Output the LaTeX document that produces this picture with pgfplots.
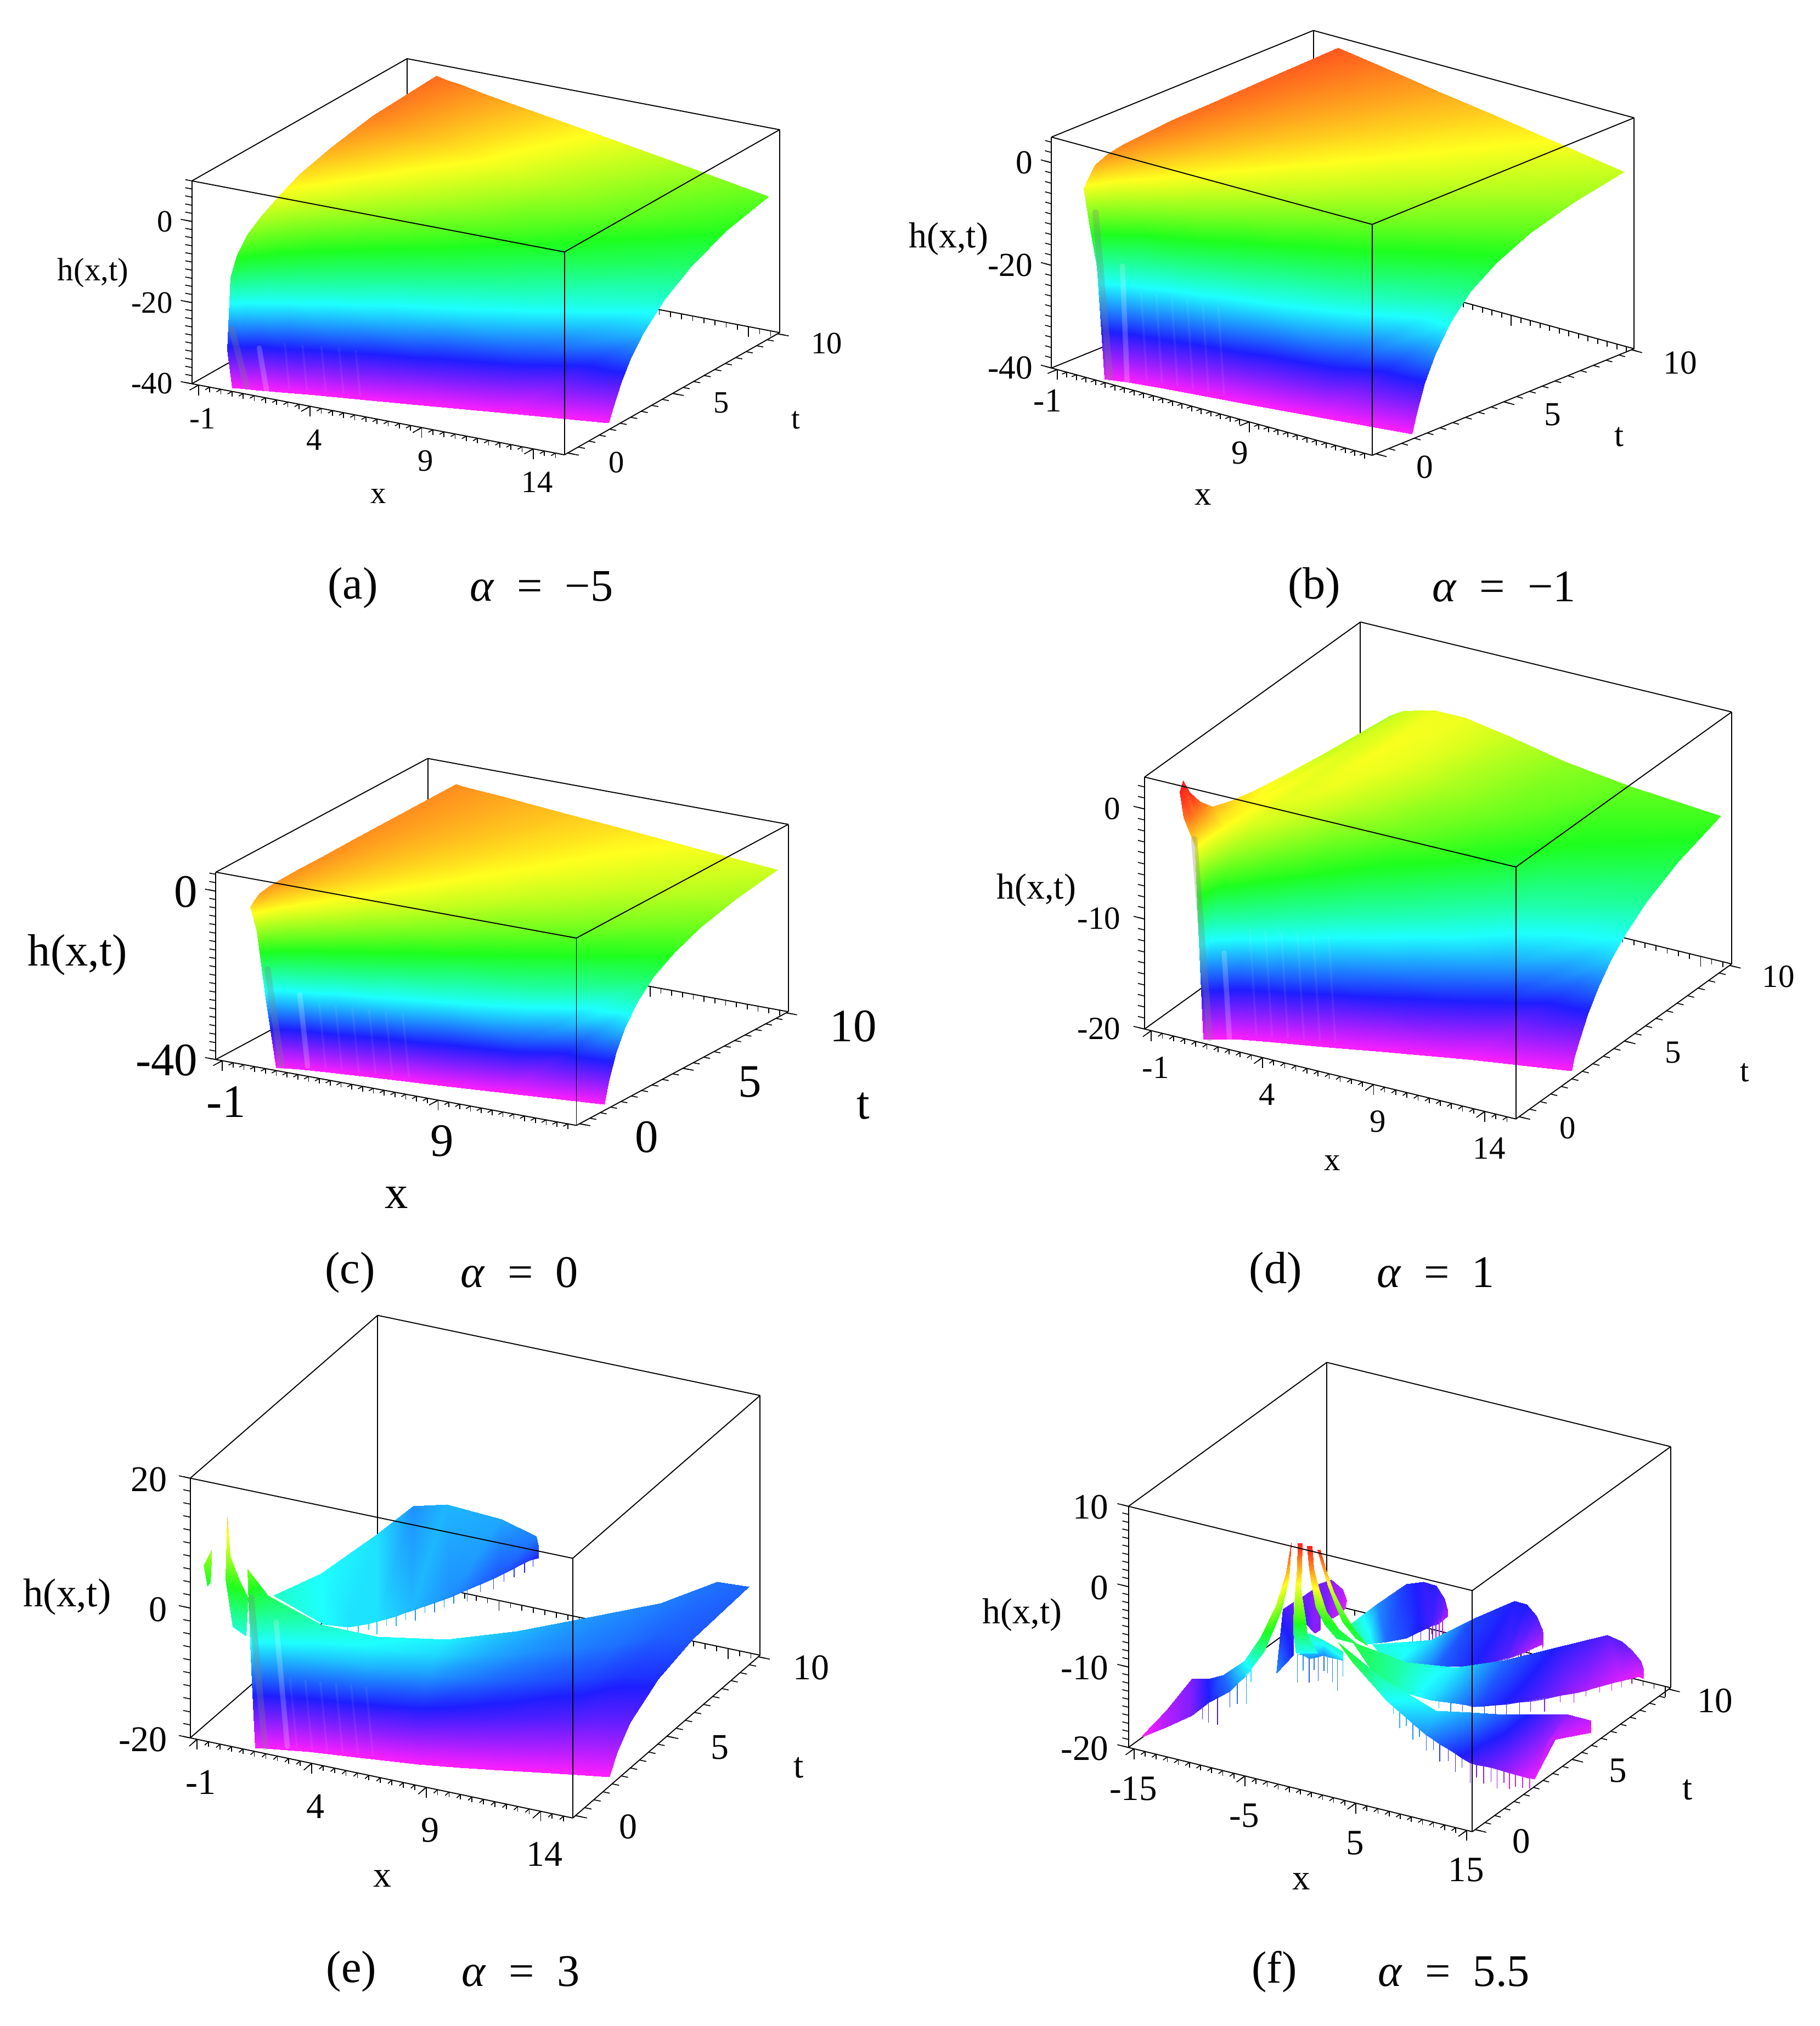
\documentclass[border=0pt]{standalone}
\usepackage{fontspec}
\setmainfont{Liberation Serif}
\usepackage{pgfplots}
\pgfplotsset{compat=1.18}
\def\u{0.5pt}
\pgfplotsset{
  colormap={zhue}{rgb255=(255,30,255) rgb255=(30,30,255) rgb255=(30,255,255) rgb255=(30,255,30) rgb255=(255,255,30) rgb255=(255,30,30)},
  maple/.style={
    clip=false, anchor=south west,
    xmin=-1.3, xmax=15.4, ymin=-0.15, ymax=10.1,
    axis line style={black,line width=0.4pt},
    tick style={black,line width=0.35pt},
    major tick length=4pt, minor tick length=2pt,
    tick align=outside, tick pos=left,
    ytick style={draw=none}, ztick style={draw=none},
    colormap name=zhue,
    xticklabel style={anchor=center},
    yticklabel style={anchor=center},
    zticklabel style={anchor=east},
    ytick={0,5,10},
    minor xtick={-1,-0.5,...,15},
    /pgf/number format/assume math mode=true,
  },
  sheet/.style={surf, shader=interp, z buffer=none},
  streak/.style={no markers, draw=white, opacity=0.2, line width=2pt, line cap=round},
  gstreak/.style={no markers, draw=gray, opacity=0.3, line width=2.4pt, line cap=round},
  ripple/.style={no markers, draw=white, opacity=0.07, line width=0.8pt, unbounded coords=jump},
  edge/.style={no markers, draw=black, line width=0.4pt},
  tk/.style={no markers, draw=black, line width=0.35pt},
  jag/.style={mesh, no markers, line width=0.3pt},
}
\tikzset{captxt/.style={font=\fontsize{17.5}{20}\selectfont}}
\newcommand\al[1]{\textit{α}\hspace{0.5em}=\hspace{0.5em}#1}
% ticks along the t edge and the h edge, in the direction of the x axis
\newcommand\tticks[4]{%
  \pgfplotsinvokeforeach{0,0.5,...,10}{\addplot3[tk] coordinates {(#1,##1,#4)(#2,##1,#4)};}
  \pgfplotsinvokeforeach{0,5,10}{\addplot3[tk] coordinates {(#1,##1,#4)(#3,##1,#4)};}}
\newcommand\zticks[6]{%
  \pgfplotsinvokeforeach{#5}{\addplot3[tk] coordinates {(#1,#4,##1)(#2,#4,##1)};}
  \pgfplotsinvokeforeach{#6}{\addplot3[tk] coordinates {(#1,#4,##1)(#3,#4,##1)};}}
\begin{document}
\begin{tikzpicture}
\useasboundingbox (0,0) rectangle (1408*\u,-1568*\u);
% (a)
\begin{axis}[maple, at={(148.5*\u,-352*\u)},
  x={(288.3/16.7*\u,-55/16.7*\u)}, y={(166.5/10.25*\u,94.6/10.25*\u)}, z={(0,157/50*\u)},
  zmin=-40, zmax=10, point meta min=-40, point meta max=11,
  xtick={-1,4,9,14}, ztick={-40,-20,0},
  ticklabel style={font=\fontsize{12}{14}\selectfont},
  xticklabel style={xshift=5pt,yshift=-11pt}, yticklabel style={xshift=15pt,yshift=-3pt}, zticklabel style={xshift=-0.5pt,yshift=2pt}]
\addplot3[sheet, mesh/cols=10, mesh/rows=10] coordinates {
(.1,10,7.5)(.1,7,6.6)(.1,5,4.65)(.1,3.5,2.4)(.1,2.5,.05)(.1,1.6,-2.7)(.1,1,-5.1)(.1,.5,-8.6)(.1,.2,-13.2)(.1,.05,-30.8)
(.3,10,7.3)(.3,7,6.35)(.3,5,4.35)(.3,3.5,2)(.3,2.5,-.5)(.3,1.6,-3.4)(.3,1,-6.2)(.3,.5,-10.9)(.3,.2,-18.7)(.3,.07,-40)
(.6,10,7)(.6,7,6)(.6,5,3.9)(.6,3.5,1.4)(.6,2.5,-1.2)(.6,1.6,-4.6)(.6,1,-8)(.6,.5,-14.2)(.6,.2,-27)(.6,.125,-40)
(1.2,10,6.5)(1.2,7,5.3)(1.2,5,3)(1.2,3.5,.3)(1.2,2.5,-2.8)(1.2,1.6,-6.8)(1.2,1,-11.5)(1.2,.5,-21)(1.2,.22,-40)(1.2,.22,-40)
(2.2,10,5.5)(2.2,7,4.1)(2.2,5,1.5)(2.2,3.5,-1.7)(2.2,2.5,-5.3)(2.2,1.6,-10.6)(2.2,1,-17.3)(2.2,.5,-32.1)(2.2,.385,-40)(2.2,.385,-40)
(3.5,10,4.3)(3.5,7,2.6)(3.5,5,-.4)(3.5,3.5,-4.2)(3.5,2.5,-8.7)(3.5,1.6,-15.5)(3.5,1,-24.8)(3.5,.6,-40)(3.5,.6,-40)(3.5,.6,-40)
(5.5,10,2.4)(5.5,7,.3)(5.5,5,-3.3)(5.5,3.5,-8.1)(5.5,2.5,-13.8)(5.5,1.6,-23.1)(5.5,1,-36.4)(5.5,.9,-40)(5.5,.9,-40)(5.5,.9,-40)
(8,10,.1)(8,7,-2.7)(8,5,-7)(8,3.5,-12.9)(8,2.5,-20.2)(8,1.6,-32.5)(8,1.29,-40)(8,1.29,-40)(8,1.29,-40)(8,1.29,-40)
(11,10,-2.7)(11,7,-6.2)(11,5,-11.5)(11,3.5,-18.8)(11,2.5,-27.9)(11,1.76,-40)(11,1.76,-40)(11,1.76,-40)(11,1.76,-40)(11,1.76,-40)
(15,10,-6.5)(15,8,-9.1)(15,6.3,-13)(15,5,-17.4)(15,4,-22.9)(15,3.4,-27.4)(15,3,-31.4)(15,2.7,-35.1)(15,2.5,-38.1)(15,2.38,-40)
};
\addplot3[gstreak] coordinates {(.3,.05,-25.4)(.97,.05,-38.9)};
\addplot3[streak] coordinates {(1.53,.05,-28.8)(1.87,.05,-39.3)};
\addplot3[ripple] coordinates {(2.5,.45,-39)(2.3,.45,-28)(nan,nan,nan)(3.2,.55,-39)(3,.55,-28)(nan,nan,nan)(3.9,.7,-39)(3.7,.7,-28)(nan,nan,nan)(4.6,.8,-39)(4.4,.8,-28)(nan,nan,nan)(5.3,.85,-39)(5.1,.85,-28)};
\addplot3[edge] coordinates {(-1.3,-.15,10)(15.4,-.15,10)(15.4,10.1,10)};
\addplot3[edge] coordinates {(15.4,-.15,-40)(15.4,-.15,10)};
\tticks{15.4}{15.7}{15.9}{-40}
\zticks{-1.3}{-1.6}{-1.8}{-.15}{-40,-38,...,10}{-40,-20,0}
\end{axis}
% (b)
\begin{axis}[maple, at={(813.6*\u,-352.4*\u)},
  x={(248.2/16.7*\u,-67.6/16.7*\u)}, y={(202.7/10.25*\u,82.5/10.25*\u)}, z={(0,178.7/45*\u)},
  zmin=-40, zmax=5, point meta min=-40, point meta max=5.7,
  xtick={-1,9}, ztick={-40,-20,0},
  ticklabel style={font=\fontsize{13}{15}\selectfont},
  xticklabel style={xshift=0pt,yshift=-10.5pt}, yticklabel style={xshift=15pt,yshift=-4pt}, zticklabel style={yshift=1.5pt}]
\addplot3[sheet, mesh/cols=10, mesh/rows=10] coordinates {
(.1,10,3.3)(.1,7,2.8)(.1,5,2.5)(.1,3.5,2.3)(.1,2.5,1.9)(.1,1.6,1.5)(.1,1,.9)(.1,.5,-.2)(.1,.2,-2.5)(.1,.05,-4)
(.4,10,3.2)(.4,7,2.6)(.4,5,2.2)(.4,3.5,1.8)(.4,2.5,1.3)(.4,1.6,.6)(.4,1,-.5)(.4,.5,-3)(.4,.2,-7)(.4,.05,-10.5)
(.8,10,2.9)(.8,7,2.3)(.8,5,1.8)(.8,3.5,1.25)(.8,2.5,.5)(.8,1.6,-.6)(.8,1,-2.3)(.8,.5,-6.6)(.8,.2,-12)(.8,.05,-18.5)
(1.2,10,2.7)(1.2,7,1.95)(1.2,5,1.3)(1.2,3.5,.7)(1.2,2.5,-.2)(1.2,1.6,-1.75)(1.2,1,-4.2)(1.2,.5,-10.3)(1.2,.2,-22)(1.2,.05,-40)
(2.2,10,2.1)(2.2,7,1.1)(2.2,5,.26)(2.2,3.5,-.8)(2.2,2.5,-2.2)(2.2,1.6,-4.8)(2.2,1,-8.9)(2.2,.5,-19.6)(2.2,.25,-40)(2.2,.25,-40)
(3.5,10,1.3)(3.5,7,.1)(3.5,5,-1.1)(3.5,3.5,-2.7)(3.5,2.5,-4.8)(3.5,1.6,-8.7)(3.5,1,-15)(3.5,.5,-31.6)(3.5,.4,-40)(3.5,.4,-40)
(5.5,10,.06)(5.5,7,-1.5)(5.5,5,-3.2)(5.5,3.5,-5.6)(5.5,2.5,-8.7)(5.5,1.6,-14.6)(5.5,1,-24.4)(5.5,.62,-40)(5.5,.62,-40)(5.5,.62,-40)
(8,10,-1.45)(8,7,-3.5)(8,5,-5.9)(8,3.5,-9.2)(8,2.5,-13.6)(8,1.6,-22)(8,1,-36)(8,.9,-40)(8,.9,-40)(8,.9,-40)
(11,10,-3.3)(11,7,-5.9)(11,5,-9)(11,3.5,-13.5)(11,2.5,-19.5)(11,1.6,-31)(11,1.25,-40)(11,1.25,-40)(11,1.25,-40)(11,1.25,-40)
(15,10,-5.7)(15,8,-7.7)(15,6.3,-10.3)(15,5,-13.3)(15,4,-16.9)(15,3.2,-21.3)(15,2.6,-26.4)(15,2.2,-31.2)(15,1.9,-36.2)(15,1.7,-40)
};
\addplot3[gstreak] coordinates {(.73,.05,-8)(1.49,.05,-39.5)};
\addplot3[streak] coordinates {(2.13,.05,-17)(2.38,.05,-39.6)};
\addplot3[ripple] coordinates {(3,.35,-39)(2.7,.35,-22)(nan,nan,nan)(3.7,.42,-39)(3.4,.42,-22)(nan,nan,nan)(4.4,.5,-39)(4.1,.5,-22)(nan,nan,nan)(5.1,.58,-39)(4.8,.58,-22)(nan,nan,nan)(5.8,.66,-39)(5.5,.66,-22)(nan,nan,nan)(6.5,.74,-39)(6.2,.74,-22)};
\addplot3[edge] coordinates {(-1.3,-.15,5)(15.4,-.15,5)(15.4,10.1,5)};
\addplot3[edge] coordinates {(15.4,-.15,-40)(15.4,-.15,5)};
\tticks{15.4}{15.73}{15.95}{-40}
\zticks{-1.3}{-1.63}{-1.85}{-.15}{-40,-38,...,4}{-40,-20,0}
\end{axis}
% (c)
\begin{axis}[maple, at={(167*\u,-871*\u)},
  x={(279/16.7*\u,-51/16.7*\u)}, y={(164/10.25*\u,88/10.25*\u)}, z={(0,145/44.5*\u)},
  zmin=-40, zmax=4.5, point meta min=-40, point meta max=4.4,
  xtick={-1,9}, ztick={-40,0},
  ticklabel style={font=\fontsize{18}{20}\selectfont},
  xticklabel style={xshift=5pt,yshift=-14pt}, yticklabel style={xshift=22pt,yshift=-4.5pt}, zticklabel style={yshift=1.5pt}]
\addplot3[sheet, mesh/cols=10, mesh/rows=10] coordinates {
(.1,10,-.04)(.1,7,-.06)(.1,5,-.09)(.1,3.5,-.12)(.1,2.5,-.17)(.1,1.6,-.27)(.1,1,-.43)(.1,.5,-.86)(.1,.2,-2.1)(.1,.05,-3)
(.4,10,-.17)(.4,7,-.24)(.4,5,-.34)(.4,3.5,-.49)(.4,2.5,-.68)(.4,1.6,-1.06)(.4,1,-1.7)(.4,.5,-3.4)(.4,.2,-6)(.4,.05,-8.5)
(.8,10,-.34)(.8,7,-.49)(.8,5,-.68)(.8,3.5,-.97)(.8,2.5,-1.36)(.8,1.6,-2.1)(.8,1,-3.4)(.8,.5,-6.8)(.8,.2,-13)(.8,.05,-23)
(1.3,10,-.56)(1.3,7,-.79)(1.3,5,-1.11)(1.3,3.5,-1.59)(1.3,2.5,-2.22)(1.3,1.6,-3.47)(1.3,1,-5.55)(1.3,.5,-11.1)(1.3,.2,-27)(1.3,.05,-40)
(2.2,10,-.94)(2.2,7,-1.34)(2.2,5,-1.88)(2.2,3.5,-2.69)(2.2,2.5,-3.76)(2.2,1.6,-5.88)(2.2,1,-9.4)(2.2,.5,-18.8)(2.2,.235,-40)(2.2,.235,-40)
(3.5,10,-1.5)(3.5,7,-2.14)(3.5,5,-3)(3.5,3.5,-4.29)(3.5,2.5,-6)(3.5,1.6,-9.38)(3.5,1,-15)(3.5,.5,-30)(3.5,.375,-40)(3.5,.375,-40)
(5.5,10,-2.35)(5.5,7,-3.36)(5.5,5,-4.7)(5.5,3.5,-6.71)(5.5,2.5,-9.4)(5.5,1.6,-14.7)(5.5,1,-23.5)(5.5,.59,-40)(5.5,.59,-40)(5.5,.59,-40)
(8,10,-3.42)(8,7,-4.89)(8,5,-6.84)(8,3.5,-9.77)(8,2.5,-13.7)(8,1.6,-21.4)(8,1,-34.2)(8,.855,-40)(8,.855,-40)(8,.855,-40)
(11,10,-4.7)(11,7,-6.71)(11,5,-9.4)(11,3.5,-13.4)(11,2.5,-18.8)(11,1.6,-29.4)(11,1.175,-40)(11,1.175,-40)(11,1.175,-40)(11,1.175,-40)
(15,10,-6.4)(15,8,-8)(15,6.3,-10.2)(15,5,-12.8)(15,4,-16)(15,3.2,-20)(15,2.6,-24.6)(15,2.2,-29.1)(15,1.85,-34.6)(15,1.6,-40)
};
\addplot3[gstreak] coordinates {(.9,.05,-17)(1.56,.05,-39.4)};
\addplot3[streak] coordinates {(2.4,.05,-21.7)(2.76,.05,-38.3)};
\addplot3[ripple] coordinates {(3.3,.36,-39)(3,.36,-24)(nan,nan,nan)(4,.42,-39)(3.7,.42,-24)(nan,nan,nan)(4.7,.5,-39)(4.4,.5,-24)(nan,nan,nan)(5.4,.58,-39)(5.1,.58,-24)(nan,nan,nan)(6.1,.66,-39)(5.8,.66,-24)(nan,nan,nan)(6.8,.74,-39)(6.5,.74,-24)};
\addplot3[edge] coordinates {(-1.3,-.15,4.5)(15.4,-.15,4.5)(15.4,10.1,4.5)};
\addplot3[edge] coordinates {(15.4,-.15,-40)(15.4,-.15,4.5)};
\tticks{15.4}{15.7}{15.9}{-40}
\zticks{-1.3}{-1.6}{-1.8}{-.15}{-40,-38,...,4}{-40,0}
\end{axis}
% (d)
\begin{axis}[maple, at={(885.7*\u,-866*\u)},
  x={(287.3/16.7*\u,-69.6/16.7*\u)}, y={(167/10.25*\u,120/10.25*\u)}, z={(0,195/22.9*\u)},
  zmin=-20, zmax=2.9, point meta min=-20, point meta max=1.25,
  xtick={-1,4,9,14}, ztick={-20,-10,0},
  ticklabel style={font=\fontsize{12.5}{14}\selectfont},
  xticklabel style={xshift=5pt,yshift=-12pt}, yticklabel style={xshift=15pt,yshift=-3.5pt}, zticklabel style={xshift=-2.5pt,yshift=2.5pt}]
\addplot3[sheet, mesh/cols=10, mesh/rows=11] coordinates {
(.1,10,-4.8)(.1,7,-4)(.1,5,-3.3)(.1,3.5,-2.7)(.1,2.5,-2.2)(.1,1.6,-1.5)(.1,1,-.2)(.1,.5,1.3)(.1,.2,2.8)(.1,.05,2)
(.4,10,-4.4)(.4,7,-3.9)(.4,5,-3.4)(.4,3.5,-3)(.4,2.5,-2.7)(.4,1.6,-2.4)(.4,1,-1.5)(.4,.5,-.8)(.4,.2,0)(.25,.05,-.3)
(.75,10,-4)(.75,7,-3.6)(.75,5,-3.2)(.75,3.5,-3)(.75,2.5,-3)(.75,1.6,-3.2)(.75,1,-3.6)(.75,.5,-4)(.75,.2,-3.5)(.75,.05,-2.1)
(1,10,-3.9)(1,7,-3.6)(1,5,-3.3)(1,3.5,-3.3)(1,2.5,-3.4)(1,1.6,-4)(1,1,-5)(1,.5,-7.5)(1,.2,-9)(1,.05,-13.5)
(1.15,10,-3.8)(1.15,7,-3.6)(1.15,5,-3.5)(1.15,3.5,-3.5)(1.15,2.5,-3.7)(1.15,1.6,-4.6)(1.15,1,-6.2)(1.15,.5,-10.4)(1.15,.2,-15)(1.15,.05,-20)
(2.2,10,-3.3)(2.2,7,-3.1)(2.2,5,-3.3)(2.2,3.5,-4.1)(2.2,2.5,-5.2)(2.2,1.6,-7)(2.2,1,-10)(2.2,.5,-18)(2.2,.44,-20)(2.2,.44,-20)
(3.5,10,-3.3)(3.5,7,-3.4)(3.5,5,-4.2)(3.5,3.5,-5.7)(3.5,2.5,-7.1)(3.5,1.6,-10)(3.5,1,-14.8)(3.5,.71,-20)(3.5,.71,-20)(3.5,.71,-20)
(5.5,10,-4)(5.5,7,-4.6)(5.5,5,-5.7)(5.5,3.5,-7.7)(5.5,2.5,-10)(5.5,1.6,-14.5)(5.5,1.11,-20)(5.5,1.11,-20)(5.5,1.11,-20)(5.5,1.11,-20)
(8,10,-5.1)(8,7,-5.8)(8,5,-7.3)(8,3.5,-10.1)(8,2.5,-13.7)(8,2,-16.6)(8,1.62,-20)(8,1.62,-20)(8,1.62,-20)(8,1.62,-20)
(11,10,-5.9)(11,7,-7.4)(11,5,-10)(11,3.5,-13.5)(11,2.8,-16.4)(11,2.23,-20)(11,2.23,-20)(11,2.23,-20)(11,2.23,-20)(11,2.23,-20)
(15,10,-6.6)(15,8,-8)(15,6.5,-9.5)(15,5.5,-11.1)(15,4.8,-12.5)(15,4.2,-14.2)(15,3.7,-15.9)(15,3.3,-17.7)(15,3.05,-19)(15,2.9,-20)
};
\addplot3[gstreak] coordinates {(.74,.05,-2)(1.44,.05,-19.8)};
\addplot3[streak] coordinates {(2.09,.05,-11.7)(2.34,.05,-19.8)};
\addplot3[ripple] coordinates {(3,.62,-19.5)(2.7,.62,-10)(nan,nan,nan)(3.6,.73,-19.5)(3.3,.73,-10)(nan,nan,nan)(4.2,.85,-19.5)(3.9,.85,-10)(nan,nan,nan)(4.8,.98,-19.5)(4.5,.98,-10)(nan,nan,nan)(5.4,1.1,-19.5)(5.1,1.1,-10)(nan,nan,nan)(6,1.2,-19.5)(5.7,1.2,-10)};
\addplot3[edge] coordinates {(-1.3,-.15,2.9)(15.4,-.15,2.9)(15.4,10.1,2.9)};
\addplot3[edge] coordinates {(15.4,-.15,-20)(15.4,-.15,2.9)};
\tticks{15.4}{15.7}{15.9}{-20}
\zticks{-1.3}{-1.6}{-1.8}{-.15}{-20,-19,...,2}{-20,-10,0}
\end{axis}
% (e)
\begin{axis}[maple, at={(147.2*\u,-1407*\u)},
  x={(296/16.7*\u,-62/16.7*\u)}, y={(145/10.25*\u,126/10.25*\u)}, z={(0,201/40*\u)},
  zmin=-20, zmax=20, point meta min=-20, point meta max=20,
  xtick={-1,4,9,14}, ztick={-20,0,20},
  ticklabel style={font=\fontsize{14}{16}\selectfont},
  xticklabel style={xshift=4.5pt,yshift=-14pt}, yticklabel style={xshift=16.5pt,yshift=-3.5pt}, zticklabel style={xshift=-2.5pt,yshift=2pt}]
% back sheet
\addplot3[sheet, mesh/cols=2, mesh/rows=8] coordinates {
(.58,2.05,-2)(3,1.75,-4)
(.85,4.3,-4)(3.7,2.2,-5)
(.96,7.2,-5)(4.5,2.77,-5)
(.34,10,-7.9)(4.9,4.2,-6.5)
(1.8,10,-6.6)(5.3,5.76,-8)
(4.2,10,-7.1)(5.6,8,-10)
(5.7,10,-8.6)(5.8,9.5,-11)
(5.8,10,-10)(5.8,10,-11.9)
};
\addplot3[jag] coordinates {
(3.7,2.2,-5)(3.7,2.2,-6)(3.7,2.2,-5)(4,2.4,-5)(4,2.4,-6.5)(4,2.4,-5)(4.3,2.6,-5)(4.3,2.6,-6)(4.3,2.6,-5)(4.5,2.8,-5)(4.5,2.8,-7)(4.5,2.8,-5)
(4.6,3.2,-5.5)(4.6,3.2,-6.5)(4.6,3.2,-5.5)(4.7,3.6,-6)(4.7,3.6,-7.5)(4.7,3.6,-6)(4.8,4,-6.3)(4.8,4,-7.5)(4.8,4,-6.3)(4.9,4.4,-6.7)(4.9,4.4,-8.5)(4.9,4.4,-6.7)
(5,4.8,-7.1)(5,4.8,-8.2)(5,4.8,-7.1)(5.1,5.2,-7.5)(5.1,5.2,-9)(5.1,5.2,-7.5)(5.2,5.6,-7.9)(5.2,5.6,-9.2)(5.2,5.6,-7.9)(5.3,6,-8.2)(5.3,6,-9.5)(5.3,6,-8.2)
(5.4,6.6,-8.7)(5.4,6.6,-10.5)(5.4,6.6,-8.7)(5.5,7.2,-9.3)(5.5,7.2,-10.5)(5.5,7.2,-9.3)(5.6,7.8,-9.8)(5.6,7.8,-11.5)(5.6,7.8,-9.8)(5.65,8.3,-10.2)(5.65,8.3,-11.5)(5.65,8.3,-10.2)
(5.7,8.8,-10.6)(5.7,8.8,-12)(5.7,8.8,-10.6)(5.75,9.3,-10.9)(5.75,9.3,-12.5)(5.75,9.3,-10.9)(5.8,9.7,-11.3)(5.8,9.7,-12.5)
};
% fragments at the left
\addplot3[sheet, mesh/cols=2, mesh/rows=2] coordinates {(-.5,.02,9.3)(-.56,.02,4.1)(-.865,.02,6.5)(-.68,.02,3.4)};
\addplot3[sheet, mesh/cols=2, mesh/rows=4] coordinates {
(.175,.02,14.6)(.175,.02,14.6)
(.11,.02,5.1)(.3,.02,8.8)
(.42,.02,-2)(.76,.02,5)
(.98,.02,-3)(1.09,.02,3)
};
% front sheet
\addplot3[sheet, mesh/cols=6, mesh/rows=10] coordinates {
(1.06,.02,7.3)(1.1,.02,2)(1.18,.02,-4)(1.26,.02,-10)(1.33,.02,-15)(1.39,.02,-20)
(1.43,.67,2)(1.58,.45,.9)(1.67,.31,-2.2)(1.74,.2,-8.6)(1.78,.15,-14.3)(1.8,.12,-20)
(3.44,1.07,-2)(3.44,.8,-2.9)(3.44,.63,-5.4)(3.44,.5,-10.6)(3.44,.44,-15.3)(3.44,.4,-20)
(5.5,1.53,-3.5)(5.5,1.18,-4.3)(5.5,.96,-6.6)(5.5,.78,-11.4)(5.5,.7,-15.7)(5.5,.65,-20)
(7.8,2.48,-4.5)(7.8,1.87,-5.3)(7.8,1.49,-7.4)(7.8,1.18,-11.9)(7.8,1.04,-16)(7.8,.95,-20)
(9.4,4.3,-6.5)(9.4,3.06,-7.2)(9.4,2.29,-9.1)(9.4,1.67,-13)(9.4,1.39,-16.5)(9.4,1.2,-20)
(10.7,5.8,-7.5)(10.7,4.06,-8.1)(10.7,2.97,-9.9)(10.7,2.1,-13.5)(10.7,1.71,-16.8)(10.7,1.45,-20)
(12.8,7.9,-8.5)(12.8,5.5,-9.1)(12.8,4,-10.7)(12.8,2.8,-14)(12.8,2.26,-17)(12.8,1.9,-20)
(13.8,9.75,-9)(13.8,6.69,-9.6)(13.8,4.78,-11.1)(13.8,3.25,-14.3)(13.8,2.56,-17.1)(13.8,2.1,-20)
(15,10,-9.5)(15,6.93,-10)(15,5,-11.5)(15,3.48,-14.5)(15,2.79,-17.3)(15,2.33,-20)
};
\addplot3[gstreak] coordinates {(1.2,.05,3)(1.8,.05,-19.6)};
\addplot3[streak] coordinates {(2.29,.05,0)(2.78,.05,-18.8)};
\addplot3[ripple] coordinates {(3,.3,-19.5)(2.7,.3,-9)(nan,nan,nan)(3.6,.38,-19.5)(3.3,.38,-9)(nan,nan,nan)(4.2,.45,-19.5)(3.9,.45,-9)(nan,nan,nan)(4.8,.55,-19.5)(4.5,.55,-9)(nan,nan,nan)(5.4,.63,-19.5)(5.1,.63,-9)(nan,nan,nan)(6,.7,-19.5)(5.7,.7,-9)};
\addplot3[edge] coordinates {(-1.3,-.15,20)(15.4,-.15,20)(15.4,10.1,20)};
\addplot3[edge] coordinates {(15.4,-.15,-20)(15.4,-.15,20)};
\tticks{15.4}{15.7}{15.9}{-20}
\zticks{-1.3}{-1.6}{-1.8}{-.15}{-20,-18,...,20}{-20,0,20}
\end{axis}
% (f)
\begin{axis}[maple, at={(873.2*\u,-1417.6*\u)},
  x={(266.1/31*\u,-65.2/31*\u)}, y={(153.5/10.25*\u,111.4/10.25*\u)}, z={(0,186.6/30*\u)},
  xmin=-15.5, xmax=15.5, zmin=-20, zmax=10, point meta min=-20, point meta max=10,
  xtick={-15,-5,5,15}, ztick={-20,-10,0,10},
  minor xtick={-15,-14,...,15},
  ticklabel style={font=\fontsize{13.8}{16}\selectfont},
  xticklabel style={xshift=3pt,yshift=-13pt}, yticklabel style={xshift=14pt,yshift=-3.5pt}, zticklabel style={xshift=-1pt,yshift=2pt}]
% domes at the back
\addplot3[sheet, mesh/cols=2, mesh/rows=4] coordinates {
(-14.91,9.34,-16)(-11.33,7.56,-16)
(-15.22,10.17,-17)(-12.26,8.53,-18)
(-14.25,10.21,-18)(-12.57,9.14,-18.5)
(-13.74,10.11,-19)(-13.46,9.87,-19.5)
};
\addplot3[sheet, mesh/cols=2, mesh/rows=3] coordinates {
(-14.78,8.45,-16)(-11.59,6.68,-15)
(-15.17,9.05,-16.5)(-11.35,7.08,-17)
(-15.41,9.68,-17)(-10.89,7.14,-16.5)
};
\addplot3[sheet, mesh/cols=2, mesh/rows=2] coordinates {
(-14.2,7.08,-15)(-5.7,1.88,-11)
(-14.9,8.03,-16)(-8.49,4.36,-14)
};
% ridges to the right, far to near
\addplot3[sheet, mesh/cols=2, mesh/rows=7] coordinates {
(-.82,2.75,-5)(.69,2.91,-7)
(-5.37,6.88,-11)(-1.91,5.4,-12)
(-7.13,9.41,-13.5)(-1.71,6.31,-13)
(-6.91,10.17,-14.5)(-2.67,8.12,-15)
(-5.59,10.05,-14.3)(-3.11,8.75,-16)
(-4.81,10.05,-15.6)(-4.28,9.68,-17.5)
(-4.49,10.05,-17.2)(-4.32,9.95,-17.5)
};
\addplot3[jag] coordinates {
(-2,6.8,-13.5)(-2,6.8,-15.5)(-2,6.8,-13.5)(-2.3,7.4,-14.2)(-2.3,7.4,-16.5)(-2.3,7.4,-14.2)(-2.6,8,-14.9)(-2.6,8,-17)(-2.6,8,-14.9)(-3,8.4,-15.5)(-3,8.4,-18)(-3,8.4,-15.5)
(-3.4,8.8,-16)(-3.4,8.8,-18)(-3.4,8.8,-16)(-3.8,9.2,-16.5)(-3.8,9.2,-19)(-3.8,9.2,-16.5)(-4.2,9.6,-17)(-4.2,9.6,-19.5)
};
\addplot3[sheet, mesh/cols=2, mesh/rows=9] coordinates {
(1.02,2.97,-7)(3.69,2.19,-7)
(3.12,4.81,-9)(3.64,4.76,-12)
(1.05,8.26,-13)(4.79,6.13,-14)
(1.34,10.13,-14)(4.91,7.57,-15.5)
(2.57,10.05,-13.9)(4.6,8.2,-16.5)
(3.47,10.05,-15)(4.2,9,-17.5)
(4.03,10.05,-16.6)(3.95,9.39,-18)
(4.18,10.01,-17.5)(4.3,9.9,-18)
(4.2,10,-18)(4.3,9.9,-18.5)
};
\addplot3[jag] coordinates {
(4.5,6,-13.7)(4.5,6,-15)(4.5,6,-13.7)(4.7,6.4,-14.2)(4.7,6.4,-16.5)(4.7,6.4,-14.2)(4.8,6.8,-14.7)(4.8,6.8,-16)(4.8,6.8,-14.7)(4.9,7.2,-15.2)(4.9,7.2,-17.5)(4.9,7.2,-15.2)
(4.8,7.8,-16)(4.8,7.8,-17.5)(4.8,7.8,-16)(4.6,8.2,-16.5)(4.6,8.2,-18.5)(4.6,8.2,-16.5)(4.4,8.6,-17)(4.4,8.6,-18.5)(4.4,8.6,-17)(4.2,9,-17.5)(4.2,9,-19)(4.2,9,-17.5)(4,9.4,-18)(4,9.4,-19)
};
\addplot3[sheet, mesh/cols=2, mesh/rows=10] coordinates {
(2.5,1.11,-3)(7.1,0,-5)
(5.77,2.03,-6)(8.73,1.6,-9)
(7.65,3.48,-8.5)(9.61,3.61,-13)
(7.71,5.97,-12)(10.86,5.43,-15)
(8.39,8.11,-14)(11.55,7.57,-17.5)
(9.68,10.16,-15.5)(12.28,9.43,-19)
(11.19,10.05,-15.6)(12.54,9.73,-19.2)
(12,10.09,-16.5)(12.68,10.08,-19.5)
(12.88,10.05,-17.4)(12.95,10.1,-19.7)
(12.82,10.25,-19)(13,10.14,-19.8)
};
\addplot3[jag] coordinates {
(8.9,1.9,-9.5)(8.9,1.9,-10.5)(8.9,1.9,-9.5)(9.1,2.4,-10.5)(9.1,2.4,-12)(9.1,2.4,-10.5)(9.3,2.9,-11.5)(9.3,2.9,-12.5)(9.3,2.9,-11.5)(9.5,3.3,-12.5)(9.5,3.3,-14.5)(9.5,3.3,-12.5)
(9.7,3.8,-13.2)(9.7,3.8,-14.5)(9.7,3.8,-13.2)(10,4.2,-13.7)(10,4.2,-15.5)(10,4.2,-13.7)(10.3,4.6,-14.2)(10.3,4.6,-15.5)(10.3,4.6,-14.2)(10.6,5.1,-14.7)(10.6,5.1,-16.5)(10.6,5.1,-14.7)
(10.9,5.5,-15.2)(10.9,5.5,-16.5)(10.9,5.5,-15.2)(11.1,6.1,-15.9)(11.1,6.1,-17.5)(11.1,6.1,-15.9)(11.3,6.8,-16.6)(11.3,6.8,-17.5)(11.3,6.8,-16.6)(11.5,7.4,-17.3)(11.5,7.4,-18.5)(11.5,7.4,-17.3)
(11.7,7.9,-17.8)(11.7,7.9,-18.5)(11.7,7.9,-17.8)(11.9,8.5,-18.2)(11.9,8.5,-19)(11.9,8.5,-18.2)(12.1,9,-18.6)(12.1,9,-19.6)(12.1,9,-18.6)(12.3,9.4,-19)(12.3,9.4,-19.8)(12.3,9.4,-19)(12.5,9.8,-19.3)(12.5,9.8,-20)
};
% cyan part under the peaks
\addplot3[sheet, mesh/cols=2, mesh/rows=4] coordinates {
(-4.31,2.02,-6)(-4.95,2.44,-9)
(-3.49,2.3,-6)(-4.85,3.08,-11)
(-2.56,2.54,-7)(-4.19,3.47,-11)
(.48,1.77,-6)(-.92,2.57,-9)
};
\addplot3[jag] coordinates {
(-4.9,2.5,-9.5)(-4.9,2.5,-13)(-4.9,2.5,-9.5)(-4.9,2.8,-10)(-4.9,2.8,-12)(-4.9,2.8,-10)(-4.85,3.08,-11)(-4.85,3.08,-14)(-4.85,3.08,-11)(-4.6,3.2,-11)(-4.6,3.2,-12.5)(-4.6,3.2,-11)
(-4.4,3.3,-11)(-4.4,3.3,-14)(-4.4,3.3,-11)(-4.19,3.47,-11)(-4.19,3.47,-13)(-4.19,3.47,-11)(-3.4,3.2,-10.5)(-3.4,3.2,-12.5)(-3.4,3.2,-10.5)(-2.6,3,-10)(-2.6,3,-13)(-2.6,3,-10)
(-1.8,2.8,-9.5)(-1.8,2.8,-13.5)(-1.8,2.8,-9.5)(-.92,2.57,-9)(-.92,2.57,-11)
};
% nearest ridge
\addplot3[sheet, mesh/cols=2, mesh/rows=8] coordinates {
(2.26,.49,-2)(4.37,.04,-3)
(5.61,.85,-6)(6.5,.59,-8)
(10,1.12,-9)(10.08,.56,-11)
(11.37,2.11,-10.5)(12.69,1.35,-15)
(12.39,3.29,-12.5)(14.26,2.22,-17)
(13.16,4.87,-15)(15.12,3.25,-19.5)
(13.32,6.05,-17)(13.3,5.05,-18.5)
(14.31,6.67,-18.5)(14.68,6.45,-19.5)
};
\addplot3[jag] coordinates {
(7.1,.58,-8.5)(7.1,.58,-9.5)(7.1,.58,-8.5)(7.7,.57,-9)(7.7,.57,-11)(7.7,.57,-9)(8.3,.57,-9.5)(8.3,.57,-10.5)(8.3,.57,-9.5)(8.9,.56,-10)(8.9,.56,-12)(8.9,.56,-10)
(9.5,.56,-10.5)(9.5,.56,-11.5)(9.5,.56,-10.5)(10.1,.56,-11)(10.1,.56,-13)(10.1,.56,-11)(10.5,.7,-11.7)(10.5,.7,-13)(10.5,.7,-11.7)(10.9,.8,-12.3)(10.9,.8,-14.5)(10.9,.8,-12.3)
(11.4,.95,-13)(11.4,.95,-14.5)(11.4,.95,-13)(11.8,1.1,-13.7)(11.8,1.1,-16)(11.8,1.1,-13.7)(12.2,1.2,-14.3)(12.2,1.2,-15.5)(12.2,1.2,-14.3)(12.7,1.35,-15)(12.7,1.35,-17.5)(12.7,1.35,-15)
(13,1.5,-15.4)(13,1.5,-17)(13,1.5,-15.4)(13.3,1.7,-15.8)(13.3,1.7,-18)(13.3,1.7,-15.8)(13.6,1.9,-16.2)(13.6,1.9,-18)(13.6,1.9,-16.2)(13.9,2.05,-16.6)(13.9,2.05,-19)(13.9,2.05,-16.6)
(14.25,2.2,-17)(14.25,2.2,-18.5)(14.25,2.2,-17)(14.4,2.4,-17.5)(14.4,2.4,-19.5)(14.4,2.4,-17.5)(14.6,2.6,-18)(14.6,2.6,-19.5)(14.6,2.6,-18)(14.8,2.85,-18.6)(14.8,2.85,-20)(14.8,2.85,-18.6)(15,3.1,-19.2)(15,3.1,-20.5)
};
% left wing
\addplot3[sheet, mesh/cols=2, mesh/rows=10] coordinates {
(-15.68,.67,-20)(-15.6,.6,-20)
(-14.94,1.49,-18)(-13.33,.57,-18)
(-15.01,2.83,-16.5)(-11.62,.89,-16.5)
(-12.01,1.98,-14)(-9.8,.72,-14)
(-9.87,1.51,-12)(-7.91,.73,-12)
(-6.83,.86,-8)(-5.56,.45,-8)
(-4.15,.2,-3)(-4.08,.32,-5)
(-2.33,-.09,2)(-2.96,.55,0)
(-1.7,.08,6)(-2.13,.47,4.5)
(-1.15,.04,10)(-1.77,.35,8)
};
\addplot3[jag] coordinates {
(-10.5,.8,-15)(-10.5,.8,-16.5)(-10.5,.8,-15)(-9.8,.72,-14)(-9.8,.72,-16.5)(-9.8,.72,-14)(-9,.73,-13)(-9,.73,-16.5)(-9,.73,-13)(-7.9,.73,-12)(-7.9,.73,-14)(-7.9,.73,-12)
(-7,.6,-10.5)(-7,.6,-13)(-7,.6,-10.5)(-6,.5,-9)(-6,.5,-12.5)(-6,.5,-9)(-5.5,.45,-8)(-5.5,.45,-9.5)
};
% strips of the peak
\addplot3[sheet, mesh/cols=2, mesh/rows=6] coordinates {
(.89,.21,9.5)(1.09,.25,9.5)
(.82,.54,6.5)(1.2,.49,6.5)
(.26,1.14,3)(.96,1.01,3)
(.21,1.55,0)(1.22,1.35,0)
(.74,1.62,-2)(1.96,1.46,-2)
(2.01,1.55,-3.5)(3.53,1.32,-3.5)
};
\addplot3[sheet, mesh/cols=2, mesh/rows=6] coordinates {
(.25,.06,10)(.56,.12,10)
(.27,.15,7)(.55,.21,7)
(-.09,.5,4)(.55,.49,4)
(-.94,1.19,0)(.08,1.13,0)
(-.74,1.5,-2.5)(.77,1.39,-2.5)
(.73,1.3,-3.5)(2.66,1.28,-3.5)
};
\addplot3[sheet, mesh/cols=2, mesh/rows=6] coordinates {
(-.64,.08,10)(-.36,.14,10)
(-1.3,.43,6)(-1.02,.48,6)
(-1.57,.5,3.5)(-1.22,.56,3.5)
(-2.17,.74,-1)(-1.39,.89,-1)
(-3.06,1.25,-4)(-1.97,1.33,-4)
(-4.03,1.92,-8)(-2.54,2.2,-8)
};
\addplot3[edge] coordinates {(-15.5,-.15,10)(15.5,-.15,10)(15.5,10.1,10)};
\addplot3[edge] coordinates {(15.5,-.15,-20)(15.5,-.15,10)};
\tticks{15.5}{16.05}{16.5}{-20}
\zticks{-15.5}{-16.05}{-16.5}{-.15}{-20,-19,...,10}{-20,-10,0,10}
\end{axis}
% captions and axis names
\node[captxt] at (273*\u,-455*\u) {(a)};
\node[captxt] at (419*\u,-454*\u) {\al{−5}};
\node[captxt] at (1017*\u,-455*\u) {(b)};
\node[captxt] at (1164*\u,-454*\u) {\al{−1}};
\node[captxt] at (271*\u,-985*\u) {(c)};
\node[captxt] at (402*\u,-985*\u) {\al{0}};
\node[captxt] at (987*\u,-985*\u) {(d)};
\node[captxt] at (1111*\u,-985*\u) {\al{1}};
\node[captxt] at (272*\u,-1526*\u) {(e)};
\node[captxt] at (403*\u,-1526*\u) {\al{3}};
\node[captxt] at (986*\u,-1526*\u) {(f)};
\node[captxt] at (1125*\u,-1526*\u) {\al{5.5}};
\node[font=\fontsize{12.5}{14}\selectfont] at (72*\u,-211*\u) {h(x,t)};
\node[font=\fontsize{12}{14}\selectfont] at (293*\u,-384*\u) {x};
\node[font=\fontsize{12}{14}\selectfont] at (616*\u,-325*\u) {t};
\node[font=\fontsize{14}{16}\selectfont] at (734*\u,-185*\u) {h(x,t)};
\node[font=\fontsize{13}{15}\selectfont] at (931*\u,-385*\u) {x};
\node[font=\fontsize{13}{15}\selectfont] at (1253*\u,-338*\u) {t};
\node[font=\fontsize{17.5}{20}\selectfont] at (60*\u,-739*\u) {h(x,t)};
\node[font=\fontsize{18}{20}\selectfont] at (307*\u,-927*\u) {x};
\node[font=\fontsize{18}{20}\selectfont] at (668*\u,-856*\u) {t};
\node[font=\fontsize{14}{16}\selectfont] at (802*\u,-689*\u) {h(x,t)};
\node[font=\fontsize{12.5}{14}\selectfont] at (1031*\u,-900*\u) {x};
\node[font=\fontsize{12.5}{14}\selectfont] at (1350*\u,-830*\u) {t};
\node[font=\fontsize{15.5}{18}\selectfont] at (52*\u,-1236*\u) {h(x,t)};
\node[font=\fontsize{14}{16}\selectfont] at (296*\u,-1454*\u) {x};
\node[font=\fontsize{14}{16}\selectfont] at (618*\u,-1368*\u) {t};
\node[font=\fontsize{14}{16}\selectfont] at (791*\u,-1250*\u) {h(x,t)};
\node[font=\fontsize{13.8}{16}\selectfont] at (1007*\u,-1456*\u) {x};
\node[font=\fontsize{13.8}{16}\selectfont] at (1306*\u,-1385*\u) {t};
\end{tikzpicture}
\end{document}
